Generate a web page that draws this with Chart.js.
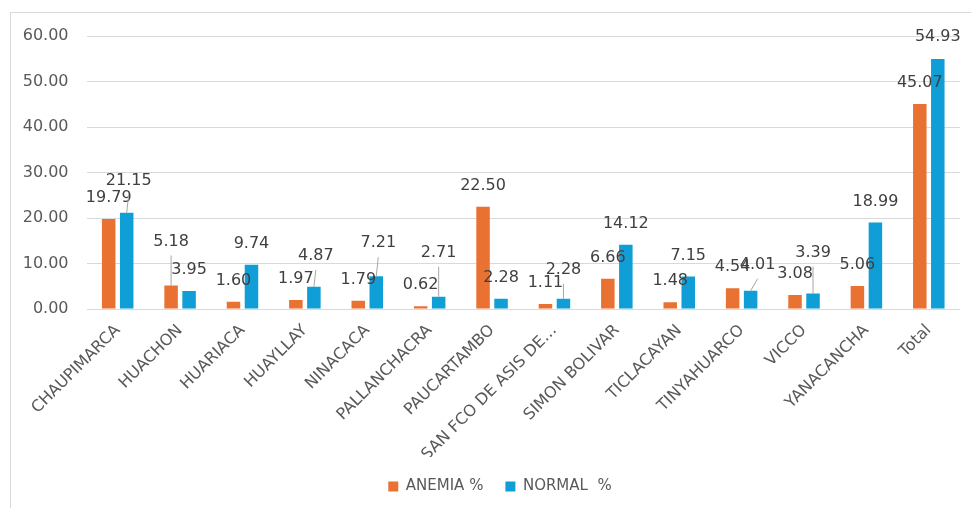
<!DOCTYPE html>
<html>
<head>
<meta charset="utf-8">
<script src="https://cdn.jsdelivr.net/npm/chart.js@4.4.1/dist/chart.umd.min.js"></script>
<style>
  html, body { margin: 0; padding: 0; background: #fff; overflow: hidden; }
  #frame { position: absolute; left: 10px; top: 12px; width: 990px; height: 520px; border: 1px solid #d9d9d9; box-sizing: border-box; }
  #wrap { position: absolute; left: 0; top: 0; width: 971px; height: 508px; }
</style>
</head>
<body>
<div id="frame"></div>
<div id="wrap"><canvas id="chart" width="971" height="508"></canvas></div>
<script>
// ─── datos ───────────────────────────────────────────────────────────────
const categories = ['CHAUPIMARCA', 'HUACHON', 'HUARIACA', 'HUAYLLAY', 'NINACACA', 'PALLANCHACRA',
  'PAUCARTAMBO', 'SAN FCO DE ASIS DE…', 'SIMON BOLIVAR', 'TICLACAYAN', 'TINYAHUARCO', 'VICCO',
  'YANACANCHA', 'Total'];
const anemia = [19.79, 5.18, 1.60, 1.97, 1.79, 0.62, 22.50, 1.11, 6.66, 1.48, 4.54, 3.08, 5.06, 45.07];
const normal = [21.15, 3.95, 9.74, 4.87, 7.21, 2.71, 2.28, 2.28, 14.12, 7.15, 4.01, 3.39, 18.99, 54.93];
const yTicks = [0, 10, 20, 30, 40, 50, 60];

// ─── posición de etiquetas (px sobre la barra / desplazamiento lateral) ──
const anemiaLift  = [21, 44, 21, 21, 21, 21, 21, 21, 21, 21, 21, 21, 21, 21];
const anemiaShift = [0, 0, 0, 0, 0, 0, 0, 0, 0, 0, 0, 0, 0, 0];
const normalLift  = [32, 21, 21, 31, 33, 44, 21, 29, 21, 21, 26, 41, 21, 22];
const normalShift = [2, 0, 0, 2, 2, 0, 0, 0, 0, 0, 7, 0, 0, 0];

const FONT = '"DejaVu Sans", sans-serif';
const GREY = '#595959';

// etiquetas de valor con líneas guía (estilo Excel)
const valueLabels = {
  id: 'valueLabels',
  afterDatasetsDraw(chart) {
    const ctx = chart.ctx;
    ctx.save();
    ctx.font = '16px ' + FONT;
    ctx.textAlign = 'center';
    ctx.textBaseline = 'middle';
    chart.data.datasets.forEach(function(ds, di) {
      const meta = chart.getDatasetMeta(di);
      meta.data.forEach(function(bar, i) {
        const lx = bar.x + ds.labelShift[i];
        const ly = bar.y - ds.labelLift[i];
        if (ds.labelLift[i] > 25) {
          ctx.strokeStyle = '#a6a6a6';
          ctx.lineWidth = 1;
          ctx.beginPath();
          ctx.moveTo(lx, ly + 14);
          ctx.lineTo(bar.x, bar.y);
          ctx.stroke();
        }
        ctx.fillStyle = '#404040';
        ctx.fillText(ds.data[i].toFixed(2), lx, ly);
      });
    });
    ctx.restore();
  }
};

// la leyenda de Excel queda algo a la derecha del centro visible
const legendNudge = {
  id: 'legendNudge',
  afterLayout(chart) {
    if (chart.legend) {
      chart.legend.left += 20;
      chart.legend.right += 20;
    }
  }
};

new Chart(document.getElementById('chart').getContext('2d'), {
  type: 'bar',
  data: {
    labels: categories,
    datasets: [
      {
        label: 'ANEMIA %',
        data: anemia,
        backgroundColor: '#E97132',
        labelLift: anemiaLift,
        labelShift: anemiaShift,
        categoryPercentage: 0.577,
        barPercentage: 0.75,
      },
      {
        label: 'NORMAL  %',
        data: normal,
        backgroundColor: '#0F9ED5',
        labelLift: normalLift,
        labelShift: normalShift,
        categoryPercentage: 0.577,
        barPercentage: 0.75,
      },
    ],
  },
  options: {
    responsive: false,
    animation: false,
    layout: { padding: { left: 0, top: 36, right: 11, bottom: 4 } },
    plugins: {
      legend: {
        position: 'bottom',
        labels: {
          font: { family: FONT, size: 15 },
          color: GREY,
          boxWidth: 10,
          boxHeight: 10,
          padding: 22,
        },
      },
      tooltip: { enabled: false },
    },
    scales: {
      x: {
        grid: { display: false },
        border: { display: false },
        ticks: {
          font: { family: FONT, size: 16 },
          color: GREY,
          minRotation: 45,
          maxRotation: 45,
          autoSkip: false,
          padding: 4,
        },
        afterFit: function(scale) { scale.height = 148; },
      },
      y: {
        min: 0,
        max: 60,
        afterBuildTicks: function(scale) { scale.ticks = yTicks.map(function(v) { return { value: v }; }); },
        grid: { color: '#d9d9d9', lineWidth: 1, drawTicks: false },
        border: { display: false },
        ticks: {
          font: { family: FONT, size: 16 },
          color: GREY,
          padding: 18,
          callback: function(v) { return Number(v).toFixed(2); },
        },
        afterFit: function(scale) { scale.width = 86.5; },
      },
    },
  },
  plugins: [valueLabels, legendNudge],
});
</script>
</body>
</html>
